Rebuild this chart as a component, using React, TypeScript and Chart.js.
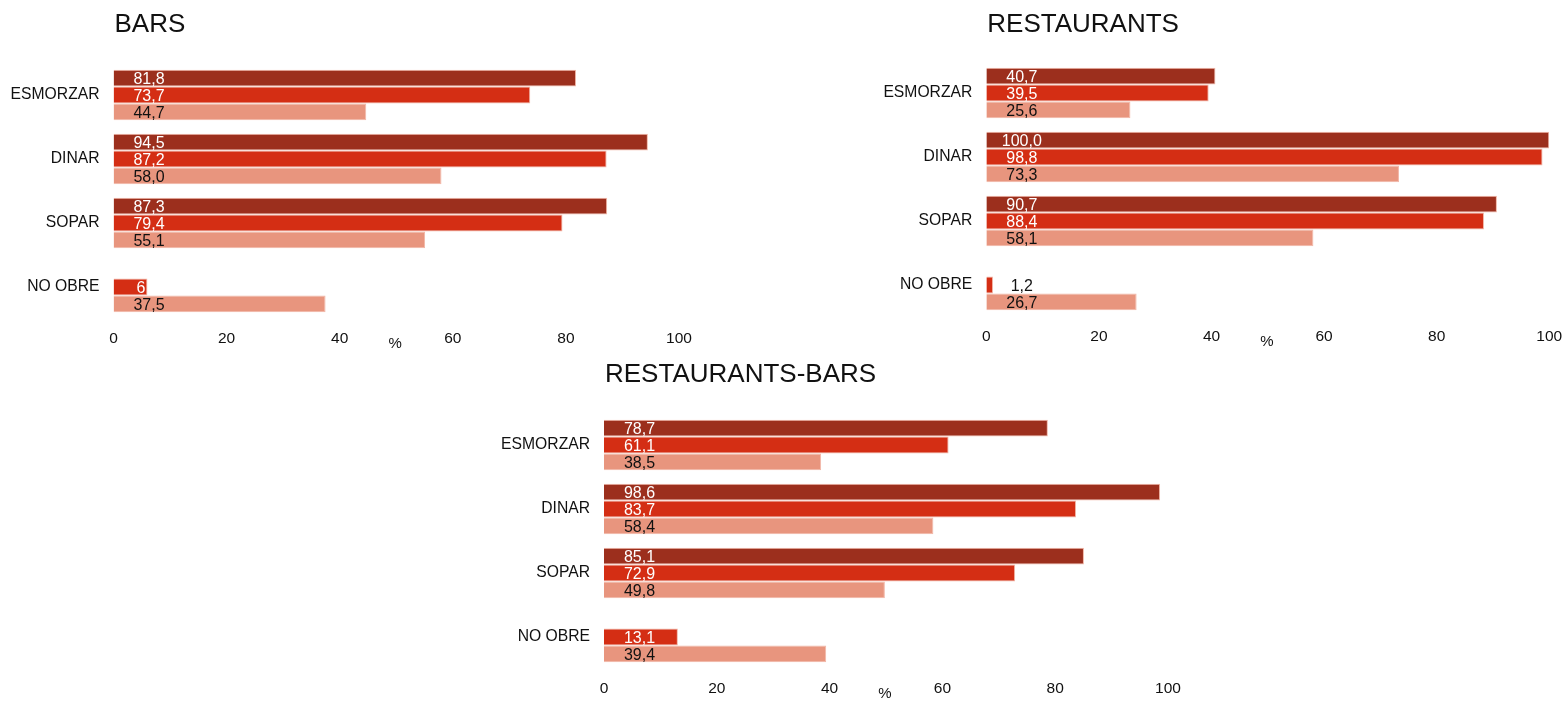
import React, { useEffect, useRef } from "react";
import { Chart, registerables } from "chart.js";

Chart.register(...registerables);

// ---- data ----
const categories = ["ESMORZAR", "DINAR", "SOPAR", "NO OBRE"];
const xTickValues = [0, 20, 40, 60, 80, 100];
const axisUnit = "%";

const barsTitle = "BARS";
const barsDark = ["81,8", "94,5", "87,3", null];
const barsMid = ["73,7", "87,2", "79,4", "6"];
const barsLight = ["44,7", "58,0", "55,1", "37,5"];

const restTitle = "RESTAURANTS";
const restDark = ["40,7", "100,0", "90,7", null];
const restMid = ["39,5", "98,8", "88,4", "1,2"];
const restLight = ["25,6", "73,3", "58,1", "26,7"];

const rbTitle = "RESTAURANTS-BARS";
const rbDark = ["78,7", "98,6", "85,1", null];
const rbMid = ["61,1", "83,7", "72,9", "13,1"];
const rbLight = ["38,5", "58,4", "49,8", "39,4"];

// ---- styles ----
const COLORS = ["#9c2f1d", "#d42e14", "#e8957e"];
const BORDER = "#f2b7a7";
const TEXT = "#111111";
const FONT = "'Liberation Sans', Arial, sans-serif";

const toNum = (s: string | null) => (s === null ? null : parseFloat(s.replace(",", ".")));

type Layout = {
  box: { left: number; top: number; width: number; height: number };
  area: { left: number; right: number; top: number; bottom: number };
};

function BarChart(props: {
  title: string;
  series: (string | null)[][];
  layout: Layout;
}) {
  const ref = useRef<HTMLCanvasElement | null>(null);
  const { title, series, layout } = props;
  useEffect(() => {
    const canvas = ref.current;
    if (!canvas) return;
    const { box, area } = layout;
    const overlay = {
      id: "overlay",
      afterDatasetsDraw(chart: any) {
        const ctx = chart.ctx;
        const ca = chart.chartArea;
        ctx.save();
        // title
        ctx.fillStyle = TEXT;
        ctx.font = `26px ${FONT}`;
        ctx.textAlign = "left";
        ctx.textBaseline = "alphabetic";
        ctx.fillText(title, ca.left + 1, 31.5);
        // unit label
        ctx.font = `15px ${FONT}`;
        ctx.textAlign = "center";
        ctx.textBaseline = "middle";
        ctx.fillText(axisUnit, (ca.left + ca.right) / 2 - 1, ca.bottom + 25);
        // value labels
        ctx.font = `16px ${FONT}`;
        const labelX = ca.left + 35.5;
        chart.data.datasets.forEach((ds: any, di: number) => {
          const meta = chart.getDatasetMeta(di);
          meta.data.forEach((el: any, i: number) => {
            const raw = series[di][i];
            if (raw === null) return;
            const tw = ctx.measureText(raw).width;
            const barW = el.x - el.base;
            const yBase = el.y + 5.7;
            if (barW >= labelX - ca.left + tw / 2 + 2) {
              ctx.fillStyle = di === 2 ? TEXT : "#ffffff";
              ctx.textAlign = "center";
              ctx.textBaseline = "alphabetic";
              ctx.fillText(raw, labelX, yBase);
            } else if (barW >= tw + 6) {
              ctx.fillStyle = di === 2 ? TEXT : "#ffffff";
              ctx.textAlign = "right";
              ctx.textBaseline = "alphabetic";
              ctx.fillText(raw, el.x - 2, yBase);
            } else {
              ctx.fillStyle = TEXT;
              ctx.textAlign = "center";
              ctx.textBaseline = "alphabetic";
              ctx.fillText(raw, labelX, yBase);
            }
          });
        });
        ctx.restore();
      },
    };
    const chart = new Chart(canvas, {
      type: "bar",
      data: {
        labels: categories,
        datasets: series.map((s, i) => ({
          label: ["a", "b", "c"][i],
          data: s.map(toNum),
          backgroundColor: COLORS[i],
          borderColor: BORDER,
          borderWidth: 1,
          barPercentage: 1,
          categoryPercentage: 0.79,
        })),
      },
      options: {
        indexAxis: "y",
        animation: false,
        responsive: false,
        maintainAspectRatio: false,
        events: [],
        layout: {
          padding: {
            left: 0,
            top: area.top,
            right: box.width - area.right,
            bottom: 0,
          },
        },
        plugins: {
          legend: { display: false },
          tooltip: { enabled: false },
          title: { display: false },
        },
        scales: {
          x: {
            type: "linear",
            min: 0,
            max: 100,
            afterBuildTicks: (scale: any) => {
              scale.ticks = xTickValues.map((v) => ({ value: v }));
            },
            afterFit: (scale: any) => {
              scale.height = box.height - area.bottom;
            },
            grid: { display: false, drawTicks: false },
            border: { display: false },
            ticks: {
              font: { size: 15.5, family: FONT },
              color: TEXT,
              padding: 10,
              maxRotation: 0,
            },
          },
          y: {
            type: "category",
            afterFit: (scale: any) => {
              scale.width = area.left;
            },
            grid: { display: false, drawTicks: false },
            border: { display: false },
            ticks: {
              font: { size: 15.7, family: FONT },
              color: TEXT,
              padding: 14,
            },
          },
        },
      } as any,
      plugins: [overlay],
    });
    return () => chart.destroy();
  }, []);
  const { box } = layout;
  return (
    <canvas
      ref={ref}
      width={box.width}
      height={box.height}
      style={{
        position: "absolute",
        left: box.left,
        top: box.top,
        width: box.width,
        height: box.height,
      }}
    />
  );
}

const layoutBars: Layout = {
  box: { left: 0, top: 0, width: 720, height: 360 },
  area: { left: 113.5, right: 679, top: 63, bottom: 319 },
};
const layoutRest: Layout = {
  box: { left: 860, top: 0, width: 730, height: 360 },
  area: { left: 126.3, right: 689.3, top: 61, bottom: 317 },
};
const layoutRB: Layout = {
  box: { left: 480, top: 350, width: 720, height: 351 },
  area: { left: 124, right: 688, top: 63, bottom: 319 },
};

export default function App() {
  return (
    <div
      style={{
        position: "absolute",
        left: 0,
        top: 0,
        width: 1566,
        height: 701,
        background: "#ffffff",
        overflow: "hidden",
      }}
    >
      <BarChart title={barsTitle} series={[barsDark, barsMid, barsLight]} layout={layoutBars} />
      <BarChart title={restTitle} series={[restDark, restMid, restLight]} layout={layoutRest} />
      <BarChart title={rbTitle} series={[rbDark, rbMid, rbLight]} layout={layoutRB} />
    </div>
  );
}
